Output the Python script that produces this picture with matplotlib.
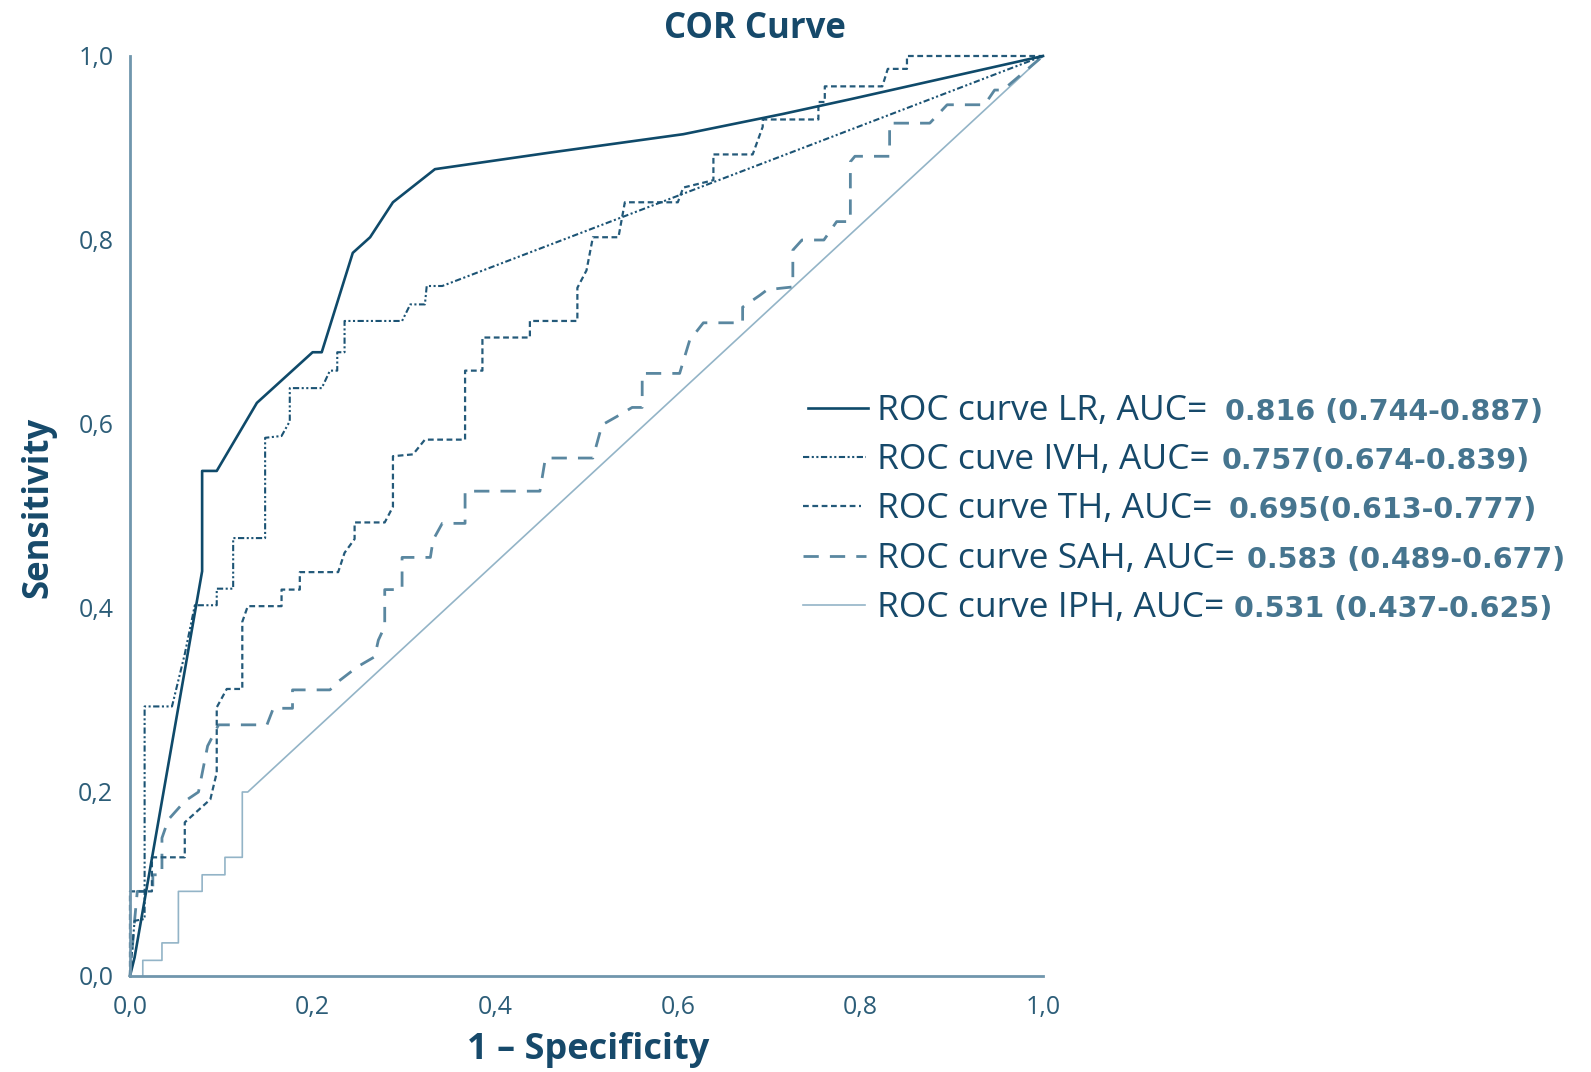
import matplotlib
matplotlib.use('Agg')
import matplotlib.pyplot as plt
from matplotlib.lines import Line2D

# ROC curves (1 - specificity, sensitivity)
lr_x = [0, 0.005, 0.079, 0.079, 0.095, 0.139, 0.2, 0.21, 0.244, 0.263, 0.288, 0.334, 0.46, 0.606, 0.715, 0.789, 1]
lr_y = [0, 0.02, 0.44, 0.549, 0.549, 0.623, 0.678, 0.678, 0.786, 0.803, 0.841, 0.877, 0.895, 0.915, 0.937, 0.953, 1]

ivh_x = [0, 0.005, 0.016, 0.016, 0.046, 0.06, 0.071, 0.095, 0.095, 0.113, 0.113, 0.148, 0.148, 0.166, 0.175,
         0.175, 0.21, 0.219, 0.227, 0.227, 0.235, 0.235, 0.298, 0.307, 0.323, 0.325, 0.342, 1]
ivh_y = [0, 0.06, 0.062, 0.293, 0.293, 0.35, 0.403, 0.403, 0.421, 0.421, 0.476, 0.476, 0.585, 0.587, 0.603,
         0.639, 0.639, 0.658, 0.658, 0.678, 0.678, 0.712, 0.712, 0.73, 0.73, 0.75, 0.75, 1]

th_x = [0, 0, 0.024, 0.024, 0.06, 0.06, 0.088, 0.095, 0.095, 0.106, 0.123, 0.123, 0.129, 0.166, 0.166, 0.186,
        0.186, 0.228, 0.235, 0.246, 0.246, 0.279, 0.288, 0.288, 0.31, 0.323, 0.367, 0.367, 0.386, 0.386, 0.438,
        0.438, 0.49, 0.49, 0.5, 0.507, 0.535, 0.542, 0.6, 0.606, 0.639, 0.639, 0.682, 0.693, 0.693, 0.754, 0.754,
        0.761, 0.761, 0.824, 0.83, 0.851, 0.851, 1]
th_y = [0, 0.092, 0.092, 0.129, 0.129, 0.167, 0.192, 0.221, 0.292, 0.312, 0.312, 0.385, 0.402, 0.402, 0.42, 0.42,
        0.439, 0.439, 0.46, 0.475, 0.493, 0.493, 0.51, 0.565, 0.567, 0.583, 0.583, 0.658, 0.658, 0.694, 0.694,
        0.712, 0.712, 0.748, 0.767, 0.803, 0.803, 0.841, 0.841, 0.857, 0.865, 0.893, 0.893, 0.923, 0.931, 0.931,
        0.95, 0.95, 0.967, 0.967, 0.986, 0.986, 1, 1]

sah_x = [0, 0.005, 0.008, 0.025, 0.025, 0.035, 0.035, 0.042, 0.06, 0.075, 0.085, 0.097, 0.15, 0.157, 0.178,
         0.178, 0.219, 0.228, 0.249, 0.268, 0.272, 0.279, 0.279, 0.298, 0.298, 0.329, 0.332, 0.342, 0.367, 0.367,
         0.449, 0.455, 0.507, 0.517, 0.533, 0.55, 0.561, 0.561, 0.602, 0.613, 0.628, 0.671, 0.671, 0.69, 0.698,
         0.726, 0.726, 0.736, 0.76, 0.774, 0.789, 0.789, 0.794, 0.832, 0.832, 0.876, 0.895, 0.936, 0.947, 0.956, 1]
sah_y = [0, 0.06, 0.092, 0.092, 0.11, 0.11, 0.15, 0.17, 0.19, 0.2, 0.25, 0.273, 0.273, 0.291, 0.291, 0.311,
         0.311, 0.32, 0.336, 0.347, 0.365, 0.38, 0.42, 0.42, 0.455, 0.455, 0.474, 0.492, 0.492, 0.527, 0.527,
         0.563, 0.563, 0.599, 0.608, 0.618, 0.618, 0.655, 0.655, 0.691, 0.71, 0.71, 0.727, 0.74, 0.746, 0.749,
         0.789, 0.8, 0.8, 0.82, 0.82, 0.885, 0.891, 0.891, 0.927, 0.927, 0.947, 0.947, 0.963, 0.963, 1]

iph_x = [0.014, 0.014, 0.035, 0.035, 0.053, 0.053, 0.079, 0.079, 0.104, 0.104, 0.123, 0.123, 0.129, 1]
iph_y = [0, 0.017, 0.017, 0.036, 0.036, 0.092, 0.092, 0.11, 0.11, 0.129, 0.129, 0.2, 0.2, 1]

labels = ['ROC curve LR, AUC=', 'ROC cuve IVH, AUC=', 'ROC curve TH, AUC=',
          'ROC curve SAH, AUC=', 'ROC curve IPH, AUC=']
auc_text = ['0.816 (0.744-0.887)', '0.757(0.674-0.839)', '0.695(0.613-0.777)',
            '0.583 (0.489-0.677)', '0.531 (0.437-0.625)']
ticks = [0, 0.2, 0.4, 0.6, 0.8, 1.0]
tick_labels = ['0,0', '0,2', '0,4', '0,6', '0,8', '1,0']

W, H = 1591, 1072
text_dark = '#16496a'
num_col = '#46758f'
spine_col = '#7096ad'

styles = [
    dict(color='#0f4a6a', lw=1.9, ls='-'),
    dict(color='#1b5374', lw=1.5, dashes=(3, 1.2, 1, 1.2, 1, 1.2)),
    dict(color='#245a7a', lw=1.6, dashes=(2.6, 1.6)),
    dict(color='#5a87a0', lw=2.0, dashes=(5.5, 4)),
    dict(color='#93b4c7', lw=1.2, ls='-'),
]

fig = plt.figure(figsize=(W / 100, H / 100), dpi=100)
ax = fig.add_axes([130 / W, 1 - 976 / H, 913 / W, 920 / H])

curves = [(lr_x, lr_y), (ivh_x, ivh_y), (th_x, th_y), (sah_x, sah_y), (iph_x, iph_y)]
for (xs, ys), st in zip(curves[::-1], styles[::-1]):
    ax.plot(xs, ys, clip_on=False, **st)

ax.set_xlim(0, 1)
ax.set_ylim(0, 1)
for s in ['top', 'right']:
    ax.spines[s].set_visible(False)
for s in ['left', 'bottom']:
    ax.spines[s].set_color(spine_col)
    ax.spines[s].set_linewidth(2)
ax.set_xticks(ticks)
ax.set_xticklabels(tick_labels)
ax.set_yticks(ticks)
ax.set_yticklabels(tick_labels)
ax.tick_params(length=0, labelsize=18, labelcolor='#2c5d78')
ax.tick_params(axis='x', pad=14)
ax.tick_params(axis='y', pad=12)
for t in ax.get_xticklabels() + ax.get_yticklabels():
    t.set_fontfamily('Open Sans')

# title and axis labels
fig.text(755 / W, 1 - 29 / H, 'COR Curve', ha='center', va='center', fontsize=25,
         fontweight='bold', family='Open Sans', color=text_dark)
fig.text(38 / W, 1 - 507 / H, 'Sensitivity', ha='center', va='center', rotation=90,
         fontsize=25, fontweight='bold', family='Open Sans', color=text_dark)
fig.text(588 / W, 1 - 1050 / H, '1 – Specificity', ha='center', va='center', fontsize=26,
         fontweight='bold', family='Open Sans', color=text_dark)

# custom legend
base_y = [420, 469, 518, 568, 617]
line_x0 = [808, 803, 803, 803, 803]
line_x1 = [868, 866, 861, 866, 865]
num_x = [1225, 1222, 1229, 1247, 1234]
for i in range(5):
    yl = 1 - (base_y[i] - 12) / H
    fig.add_artist(Line2D([line_x0[i] / W, line_x1[i] / W], [yl, yl], transform=fig.transFigure, **styles[i]))
    fig.text(877 / W, 1 - base_y[i] / H, labels[i], ha='left', va='baseline', fontsize=25.5,
             family='Open Sans', color=text_dark)
    fig.text(num_x[i] / W, 1 - base_y[i] / H, auc_text[i], ha='left', va='baseline', fontsize=20.5,
             fontweight='bold', family='DejaVu Sans', color=num_col)

fig.savefig('out.png', dpi=100)
